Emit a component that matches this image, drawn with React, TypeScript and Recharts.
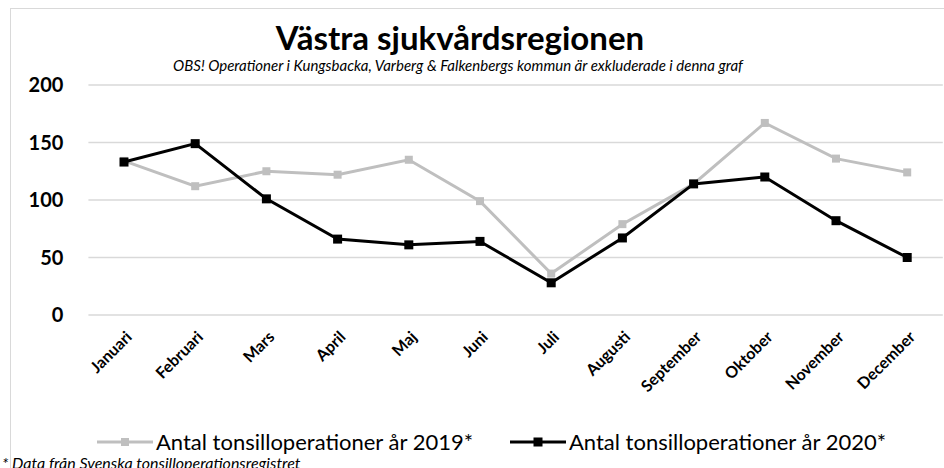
import React from 'react'
import { LineChart, Line, XAxis, YAxis, CartesianGrid } from 'recharts'

const months = [
  'Januari', 'Februari', 'Mars', 'April', 'Maj', 'Juni',
  'Juli', 'Augusti', 'September', 'Oktober', 'November', 'December',
]
const ops2019 = [134, 112, 125, 122, 135, 99, 36, 79, 114, 167, 136, 124]
const ops2020 = [133, 149, 101, 66, 61, 64, 28, 67, 114, 120, 82, 50]
const yTicks = [0, 50, 100, 150, 200]

const label2019 = 'Antal tonsilloperationer år 2019*'
const label2020 = 'Antal tonsilloperationer år 2020*'
const title = 'Västra sjukvårdsregionen'
const subtitle = 'OBS! Operationer i Kungsbacka, Varberg & Falkenbergs kommun är exkluderade i denna graf'
const footnote = '* Data från Svenska tonsilloperationsregistret'

const FONT = "Lato, 'Open Sans', sans-serif"
const GRAY = '#bfbfbf'
const BLACK = '#000000'

const data = months.map((m, i) => ({ month: m, y2019: ops2019[i], y2020: ops2020[i] }))

function squareDot(color: string, size: number) {
  return (props: any) => {
    const { cx, cy, index } = props
    if (cx == null || cy == null) return <g key={index} />
    return <rect key={index} x={cx - size / 2} y={cy - size / 2} width={size} height={size} fill={color} />
  }
}

function MonthTick({ x, y, payload }: any) {
  return (
    <g transform={`translate(${x + 9},${y + 23})`}>
      <text
        textAnchor="end"
        transform="rotate(-45)"
        fontFamily={FONT}
        fontWeight={700}
        fontSize={16}
        fill="#000"
      >
        {payload.value}
      </text>
    </g>
  )
}

function LegendSwatch({ color, size }: { color: string; size: number }) {
  return (
    <svg width={56} height={12} style={{ display: 'block' }}>
      <line x1={0} y1={6} x2={56} y2={6} stroke={color} strokeWidth={3} />
      <rect x={28 - size / 2} y={6 - size / 2} width={size} height={size} fill={color} />
    </svg>
  )
}

export default function App() {
  return (
    <div style={{ position: 'absolute', left: 0, top: 0, width: 944, height: 468, overflow: 'hidden', background: '#fff' }}>
      <div style={{ position: 'absolute', left: 10, top: 8, width: 960, height: 480, border: '1.5px solid #d9d9d9', boxSizing: 'border-box' }} />

      <svg width={944} height={468} style={{ position: 'absolute', left: 0, top: 0 }}>
        <text x={460} y={50} textAnchor="middle" fontFamily={FONT} fontWeight={700} fontSize={33} fill="#000">
          {title}
        </text>
        <text x={458} y={71} textAnchor="middle" fontFamily={FONT} fontStyle="italic" fontSize={15} fill="#000">
          {subtitle}
        </text>
        <text x={2} y={469} fontFamily={FONT} fontStyle="italic" fontSize={16} fill="#000">
          {footnote}
        </text>
      </svg>

      <div style={{ position: 'absolute', left: 0, top: 0 }}>
        <LineChart
          width={944}
          height={468}
          data={data}
          margin={{ top: 85, right: 1.2, bottom: 123, left: 28.4 }}
        >
          <CartesianGrid vertical={false} stroke="#d9d9d9" strokeWidth={1.5} />
          <XAxis
            dataKey="month"
            axisLine={false}
            tickLine={false}
            tickSize={0}
            tickMargin={0}
            interval={0}
            padding={{ left: 35.6, right: 35.6 }}
            height={30}
            tick={MonthTick}
          />
          <YAxis
            domain={[0, 200]}
            ticks={yTicks}
            axisLine={false}
            tickLine={false}
            width={60}
            tickMargin={19}
            tick={{ fontFamily: FONT, fontWeight: 700, fontSize: 20, fill: '#000' }}
          />
          <Line
            type="linear"
            dataKey="y2019"
            stroke={GRAY}
            strokeWidth={3}
            dot={squareDot(GRAY, 8)}
            isAnimationActive={false}
          />
          <Line
            type="linear"
            dataKey="y2020"
            stroke={BLACK}
            strokeWidth={3}
            dot={squareDot(BLACK, 9)}
            isAnimationActive={false}
          />
        </LineChart>
      </div>

      <div style={{ position: 'absolute', left: 97, top: 428, display: 'flex', alignItems: 'center', fontFamily: FONT, fontSize: 22, color: '#000', whiteSpace: 'nowrap' }}>
        <LegendSwatch color={GRAY} size={8} />
        <span style={{ marginLeft: 3 }}>{label2019}</span>
      </div>
      <div style={{ position: 'absolute', left: 510, top: 428, display: 'flex', alignItems: 'center', fontFamily: FONT, fontSize: 22, color: '#000', whiteSpace: 'nowrap' }}>
        <LegendSwatch color={BLACK} size={9} />
        <span style={{ marginLeft: 3 }}>{label2020}</span>
      </div>
    </div>
  )
}
